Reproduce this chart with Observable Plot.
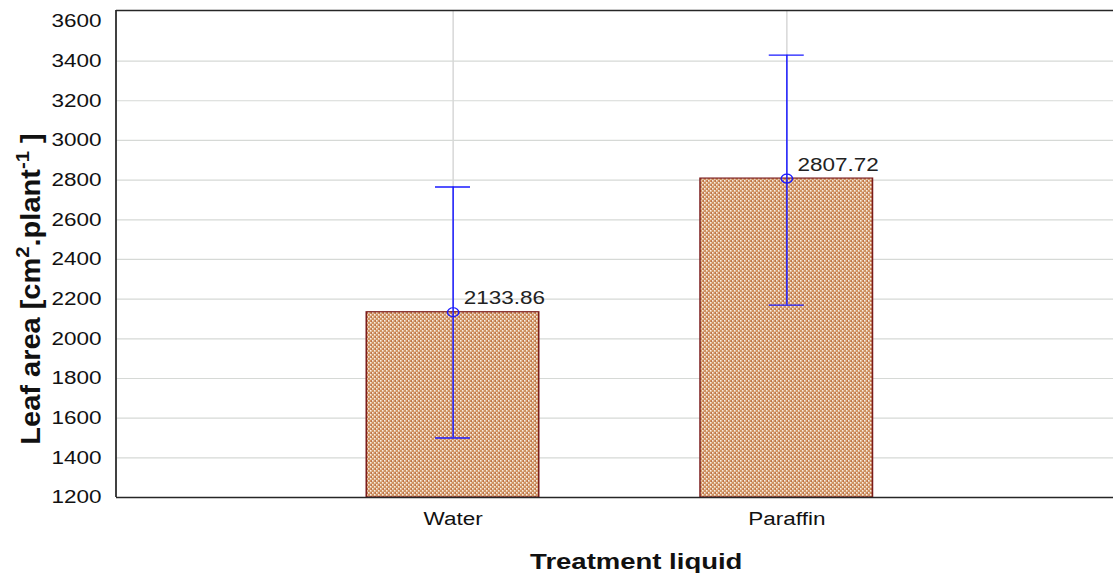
<!DOCTYPE html>
<html>
<head>
<meta charset="utf-8">
<script src="https://cdn.jsdelivr.net/npm/d3@7"></script>
<script src="https://cdn.jsdelivr.net/npm/@observablehq/plot@0.6"></script>
<style>
  html, body { margin: 0; padding: 0; background: #fff; overflow: hidden; }
  #clip { width: 1113px; height: 573px; overflow: hidden; position: relative; }
  #chart { transform: scaleX(1.25); transform-origin: 0 0; width: 891px; }
</style>
</head>
<body>
<div id="clip"><div id="chart"></div></div>
<script>
// ---- data ----
const categories = ["Water", "Paraffin"];
const means = [2133.86, 2807.72];
const lowers = [1500, 2170];
const uppers = [2765, 3430];
const meanLabels = ["2133.86", "2807.72"];
const yDomain = [1200, 3655];
const yTicks = [1200, 1400, 1600, 1800, 2000, 2200, 2400, 2600, 2800, 3000, 3200, 3400, 3600];
const yGrid = [1400, 1600, 1800, 2000, 2200, 2400, 2600, 2800, 3000, 3200, 3400];
const xTitle = "Treatment liquid";

const rows = categories.map((c, i) => ({
  cat: c, mean: means[i], lo: lowers[i], hi: uppers[i], label: meanLabels[i]
}));

// The plot area continues past the right edge of the picture (as in the original), so it has no right border.
const svg = Plot.plot({
  width: 891,
  height: 573,
  marginLeft: 92.8,
  marginRight: 0,
  marginTop: 10,
  marginBottom: 76,
  style: {fontFamily: "'Liberation Sans', Arial, sans-serif", fontSize: "18px", color: "#111", background: "#fff", overflow: "hidden"},
  x: {domain: categories, range: [92.8, 897.6], paddingInner: 0.485, paddingOuter: 0.7485, label: null, tickSize: 0, tickPadding: 15},
  y: {domain: yDomain, ticks: yTicks, tickFormat: d => String(d), label: null, tickSize: 0, tickPadding: 12},
  marks: [
    Plot.gridX(categories, {stroke: "#cfcfcf", strokeOpacity: 1}),
    Plot.gridY(yGrid, {stroke: "#d6d9d6", strokeOpacity: 1, strokeWidth: 1.2}),
    Plot.barY(rows, {x: "cat", y1: yDomain[0], y2: "mean", fill: "url(#hatch)", stroke: "#7b1c1c", strokeWidth: 1.2}),
    Plot.ruleX(rows, {x: "cat", y1: "lo", y2: "hi", stroke: "#1a1aff", strokeWidth: 1.2}),
    Plot.tickY(rows, {x: "cat", y: "hi", stroke: "#1a1aff", strokeWidth: 1.4, insetLeft: 55, insetRight: 55}),
    Plot.tickY(rows, {x: "cat", y: "lo", stroke: "#1a1aff", strokeWidth: 1.4, insetLeft: 55, insetRight: 55}),
    Plot.dot(rows, {x: "cat", y: "mean", r: 4.5, stroke: "#1a1aff", fill: "none", strokeWidth: 1.2}),
    Plot.text(rows, {x: "cat", y: "mean", text: "label", textAnchor: "start", lineAnchor: "bottom", dx: 8.5, dy: -8, fill: "#222", fontSize: 18}),
    Plot.ruleY(yDomain, {stroke: "#262626", strokeWidth: 1.4})
  ]
});

// left border of the plot area, placed from the library's own scales
const xs = svg.scale("x"), ys = svg.scale("y");
d3.select(svg).append("line")
  .attr("x1", xs.range[0]).attr("x2", xs.range[0])
  .attr("y1", ys.range[0]).attr("y2", ys.range[1])
  .attr("stroke", "#262626").attr("stroke-width", 1.4);

// pattern for bars
const defs = d3.select(svg).insert("defs", ":first-child");
const pat = defs.append("pattern").attr("id", "hatch").attr("patternUnits", "userSpaceOnUse")
  .attr("width", 3.2).attr("height", 4);
pat.append("rect").attr("width", 3.2).attr("height", 4).attr("fill", "#cf9260");
pat.append("rect").attr("x", 0).attr("y", 0).attr("width", 1.2).attr("height", 1.6).attr("fill", "#f8eee4");
pat.append("rect").attr("x", 1.6).attr("y", 2).attr("width", 1.2).attr("height", 1.6).attr("fill", "#f8eee4");
pat.append("rect").attr("x", 2.6).attr("y", 0.6).attr("width", 0.6).attr("height", 0.9).attr("fill", "#9c3524");

// y-axis title with superscripts
const yl = d3.select(svg).append("text")
  .attr("transform", "translate(32,289) scale(0.74,1) rotate(-90)")
  .attr("text-anchor", "middle")
  .attr("font-weight", "bold")
  .attr("font-size", 29)
  .attr("fill", "#111");
yl.append("tspan").text("Leaf area [cm");
yl.append("tspan").attr("baseline-shift", "super").attr("font-size", "70%").text("2");
yl.append("tspan").text(".plant");
yl.append("tspan").attr("baseline-shift", "super").attr("font-size", "70%").text("-1");
yl.append("tspan").text(" ]");

// x-axis title
d3.select(svg).append("text")
  .attr("x", 509).attr("y", 569)
  .attr("text-anchor", "middle")
  .attr("font-weight", "bold")
  .attr("font-size", 22)
  .attr("fill", "#111")
  .text(xTitle);

document.getElementById("chart").appendChild(svg);
</script>
</body>
</html>
